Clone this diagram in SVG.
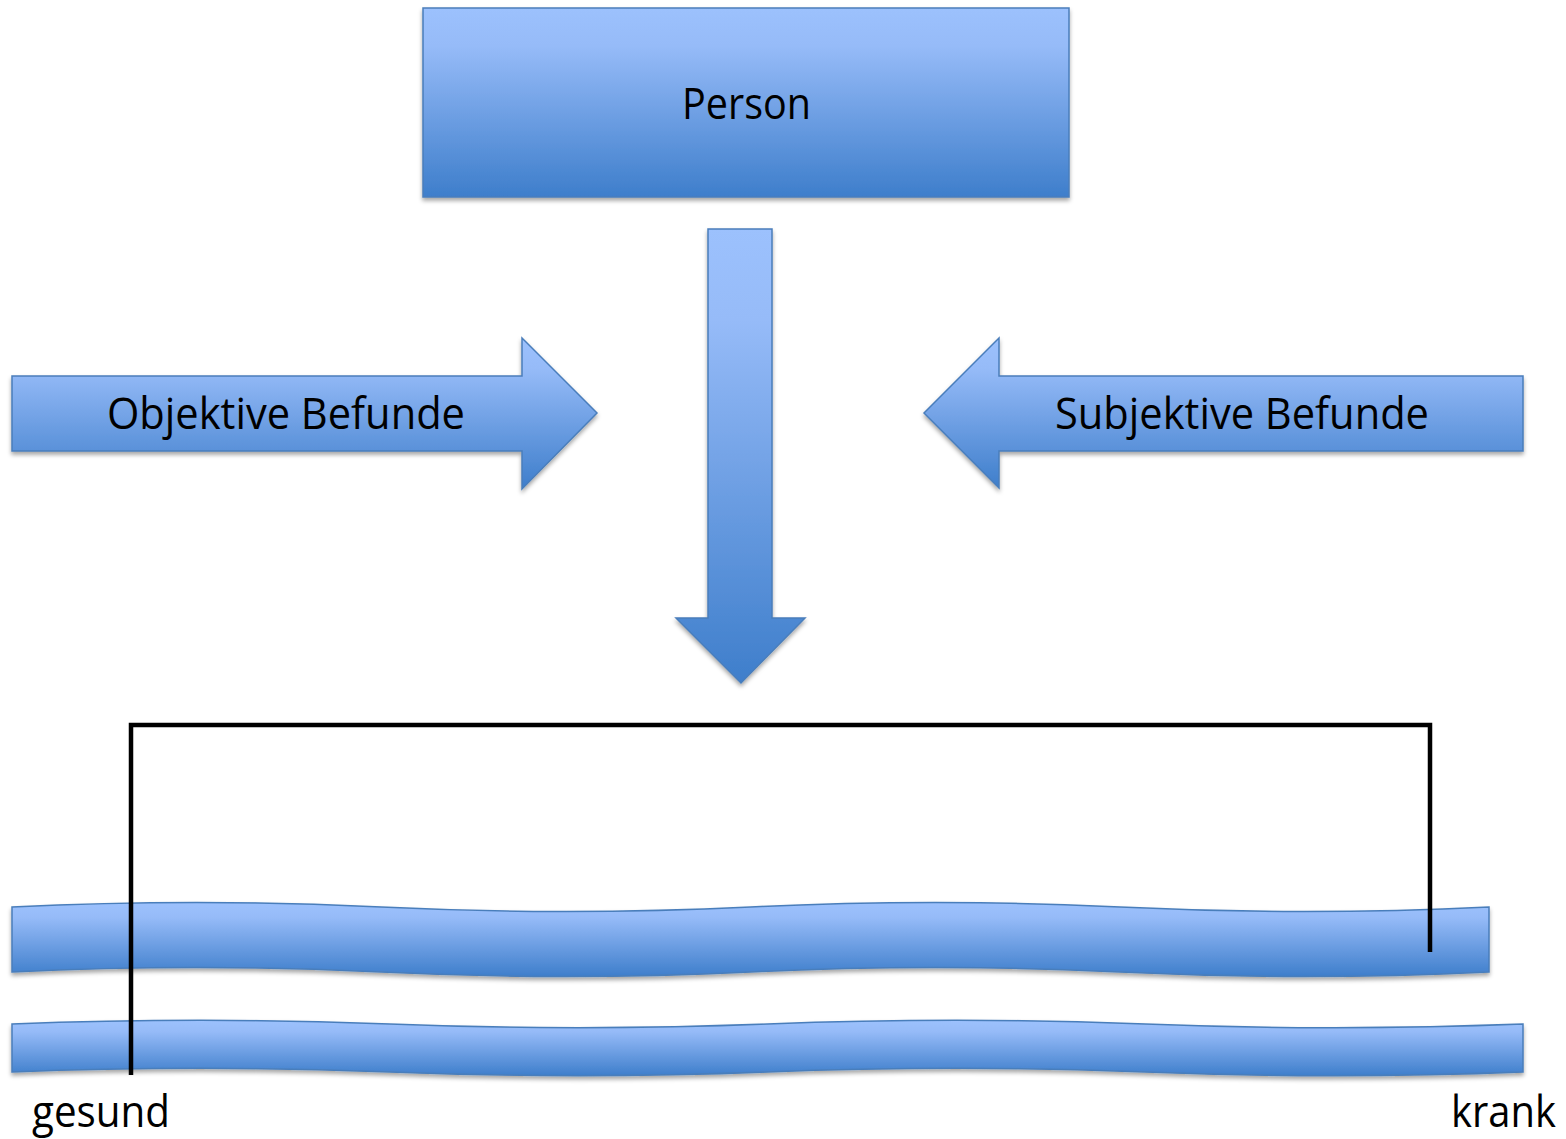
<svg xmlns="http://www.w3.org/2000/svg" width="1566" height="1139" viewBox="0 0 1566 1139">
  <defs>
    <linearGradient id="blueFill" x1="0" y1="0" x2="0" y2="1">
      <stop offset="0" stop-color="#9cc1fd"/>
      <stop offset="0.2" stop-color="#96bbf8"/>
      <stop offset="1" stop-color="#3e7ecb"/>
    </linearGradient>
    <filter id="shadow" x="-5%" y="-10%" width="110%" height="130%">
      <feDropShadow dx="0" dy="3" stdDeviation="2" flood-color="#000" flood-opacity="0.35"/>
    </filter>
  </defs>
  <style>
    .shape { fill: url(#blueFill); stroke: #4a7ebb; stroke-width: 1.5; filter: url(#shadow); }
    .label { font-family: "Open Sans", "Noto Sans", sans-serif; font-size: 43px; fill: #000; }
    .bracket { fill: none; stroke: #000; stroke-width: 4.5; }
  </style>
  <rect width="1566" height="1139" fill="#fff"/>

  <!-- wavy scale bands -->
  <g id="band-upper">
    <path class="shape" d="M12,907 C135,901 258,901 381.25,907 C504.5,913 627.5,913 750.5,907 C873.75,901 996.75,901 1120,907 C1243,913 1366,913 1489,907 L1489,972 C1366,978 1243,978 1120,972 C996.75,966 873.75,966 750.5,972 C627.5,978 504.5,978 381.25,972 C258,966 135,966 12,972 Z"/>
  </g>
  <g id="band-lower">
    <path class="shape" d="M12,1024 C137.9,1019 263.8,1019 389.75,1024 C515.7,1029 641.6,1029 767.5,1024 C893.4,1019 1019.3,1019 1145.25,1024 C1271.2,1029 1397.1,1029 1523,1024 L1523,1072 C1397.1,1077 1271.2,1077 1145.25,1072 C1019.3,1067 893.4,1067 767.5,1072 C641.6,1077 515.7,1077 389.75,1072 C263.8,1067 137.9,1067 12,1072 Z"/>
  </g>

  <!-- person box -->
  <g id="person">
    <rect class="shape" x="423" y="8" width="646" height="189"/>
    <text class="label" x="746.5" y="119" text-anchor="middle" textLength="129" lengthAdjust="spacingAndGlyphs">Person</text>
  </g>

  <!-- input arrows -->
  <g id="objektive-befunde">
    <path class="shape" d="M12,376 H522 V338 L597,413 L522,489 V451 H12 Z"/>
    <text class="label" x="286" y="429" text-anchor="middle" textLength="358" lengthAdjust="spacingAndGlyphs">Objektive Befunde</text>
  </g>
  <g id="subjektive-befunde">
    <path class="shape" d="M1523,376 H999 V338 L924,413 L999,488 V451 H1523 Z"/>
    <text class="label" x="1242" y="429" text-anchor="middle" textLength="374" lengthAdjust="spacingAndGlyphs">Subjektive Befunde</text>
  </g>

  <!-- downward arrow and bracket -->
  <g id="connectors">
    <path class="shape" d="M708,229 H772 V618 H805 L741,683 L676,618 H708 Z"/>
    <path class="bracket" d="M131,1075 V725 H1430 V952"/>
  </g>

  <!-- scale end labels -->
  <g id="gesund">
    <text class="label" x="32" y="1127" textLength="138" lengthAdjust="spacingAndGlyphs">gesund</text>
  </g>
  <g id="krank">
    <text class="label" x="1451" y="1127" textLength="105" lengthAdjust="spacingAndGlyphs">krank</text>
  </g>
</svg>
